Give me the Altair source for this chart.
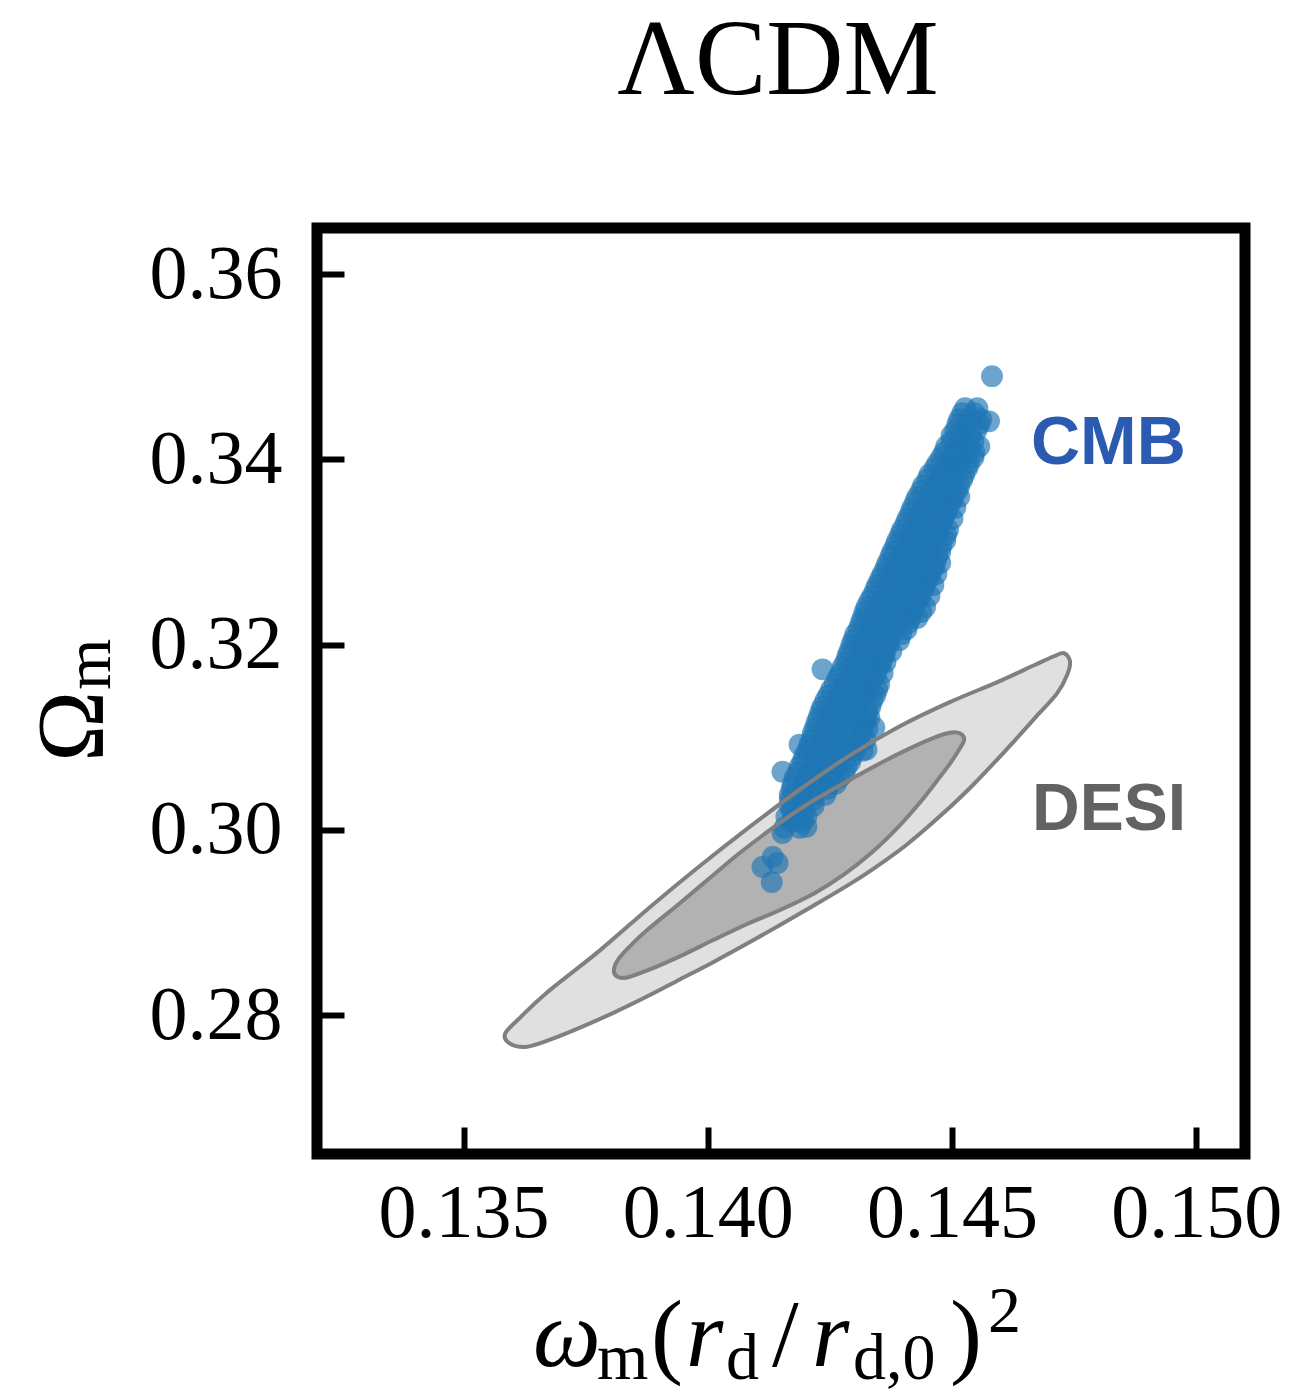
import altair as alt
import pandas as pd

# ---------------- data ----------------
x_ticks = [0.135, 0.140, 0.145, 0.150]
y_ticks = [0.28, 0.30, 0.32, 0.34, 0.36]

# CMB samples, grouped by rows of Omega_m (two interleaved sets of rows)
cmb_row_y = [
    0.3490, 0.34553, 0.34434, 0.34412, 0.34314, 0.34195, 0.34076, 0.33957, 0.33837,
    0.33718, 0.33599, 0.33480, 0.33360, 0.33241, 0.33122, 0.33003, 0.32883,
    0.32764, 0.32645, 0.32526, 0.32407, 0.32287, 0.32168, 0.32049, 0.31930,
    0.31810, 0.31734, 0.31691, 0.31572, 0.31453, 0.31333, 0.31214, 0.31106,
    0.31095, 0.30976, 0.30867, 0.30856, 0.30737, 0.30629, 0.30618, 0.30499,
    0.30379, 0.30260, 0.30141, 0.30033, 0.30022, 0.29967, 0.29707, 0.29642,
    0.29599, 0.29436,
]
cmb_row_x = [
    [0.14582],
    [0.14527, 0.14552],
    [0.14515, 0.14539, 0.14560],
    [0.14576],
    [0.14507, 0.14527, 0.14550],
    [0.14499, 0.14521, 0.14544],
    [0.14484, 0.14509, 0.14533, 0.14546],
    [0.14470, 0.14492, 0.14515, 0.14535],
    [0.14454, 0.14478, 0.14501, 0.14525],
    [0.14441, 0.14466, 0.14490, 0.14515],
    [0.14429, 0.14454, 0.14478, 0.14503, 0.14515],
    [0.14419, 0.14443, 0.14468, 0.14492, 0.14507],
    [0.14409, 0.14433, 0.14458, 0.14482, 0.14501],
    [0.14398, 0.14423, 0.14447, 0.14472, 0.14492],
    [0.14388, 0.14413, 0.14437, 0.14462, 0.14486],
    [0.14378, 0.14403, 0.14427, 0.14452, 0.14476],
    [0.14368, 0.14392, 0.14417, 0.14441, 0.14466, 0.14476],
    [0.14358, 0.14382, 0.14407, 0.14431, 0.14456, 0.14468],
    [0.14347, 0.14372, 0.14396, 0.14421, 0.14445, 0.14462],
    [0.14337, 0.14362, 0.14386, 0.14411, 0.14435, 0.14454],
    [0.14325, 0.14349, 0.14374, 0.14398, 0.14423, 0.14445],
    [0.14317, 0.14341, 0.14366, 0.14390, 0.14415, 0.14429],
    [0.14309, 0.14333, 0.14358, 0.14382, 0.14407],
    [0.14298, 0.14323, 0.14347, 0.14372, 0.14392],
    [0.14290, 0.14315, 0.14339, 0.14364, 0.14376],
    [0.14282, 0.14306, 0.14331, 0.14356, 0.14364],
    [0.14235],
    [0.14272, 0.14296, 0.14321, 0.14345, 0.14358],
    [0.14260, 0.14284, 0.14309, 0.14333, 0.14351],
    [0.14247, 0.14272, 0.14296, 0.14321, 0.14343],
    [0.14235, 0.14260, 0.14284, 0.14309, 0.14333],
    [0.14227, 0.14251, 0.14276, 0.14300, 0.14325, 0.14331],
    [0.14341],
    [0.14219, 0.14243, 0.14268, 0.14292, 0.14317, 0.14327],
    [0.14213, 0.14237, 0.14262, 0.14286, 0.14311, 0.14323],
    [0.14325],
    [0.14204, 0.14229, 0.14253, 0.14278, 0.14302, 0.14317],
    [0.14194, 0.14219, 0.14243, 0.14268, 0.14292],
    [0.14153],
    [0.14184, 0.14208, 0.14233, 0.14257, 0.14280],
    [0.14174, 0.14198, 0.14223, 0.14249, 0.14262],
    [0.14168, 0.14192, 0.14217, 0.14241],
    [0.14168, 0.14192, 0.14217],
    [0.14161, 0.14182, 0.14202],
    [0.14202],
    [0.14157, 0.14188],
    [0.14153],
    [0.14133],
    [0.14143],
    [0.14112],
    [0.14131],
]
cmb_row2_y = [
    0.34499, 0.34380, 0.34260, 0.34141, 0.34022, 0.33902, 0.33783, 0.33664, 0.33545,
    0.33425, 0.33306, 0.33187, 0.33068, 0.32949, 0.32829, 0.32710, 0.32591, 0.32472,
    0.32352, 0.32233, 0.32114, 0.31995, 0.31875, 0.31756, 0.31637, 0.31518, 0.31398,
    0.31279, 0.31160, 0.31041, 0.30921, 0.30802, 0.30683, 0.30564, 0.30444, 0.30325,
    0.30206, 0.30087,
]
cmb_row2_x = [
    [0.14521, 0.14546],
    [0.14511, 0.14531, 0.14556],
    [0.14499, 0.14519, 0.14539],
    [0.14488, 0.14511, 0.14533, 0.14556],
    [0.14478, 0.14499, 0.14521, 0.14544],
    [0.14464, 0.14486, 0.14509, 0.14531],
    [0.14450, 0.14474, 0.14499, 0.14521],
    [0.14437, 0.14462, 0.14486, 0.14511],
    [0.14425, 0.14450, 0.14474, 0.14499],
    [0.14415, 0.14439, 0.14464, 0.14488],
    [0.14405, 0.14429, 0.14454, 0.14478],
    [0.14394, 0.14419, 0.14443, 0.14468, 0.14488],
    [0.14384, 0.14409, 0.14433, 0.14458, 0.14478],
    [0.14374, 0.14398, 0.14423, 0.14447, 0.14470],
    [0.14364, 0.14388, 0.14413, 0.14437, 0.14462],
    [0.14353, 0.14378, 0.14403, 0.14427, 0.14452],
    [0.14343, 0.14368, 0.14392, 0.14417, 0.14441],
    [0.14331, 0.14356, 0.14380, 0.14405, 0.14429],
    [0.14321, 0.14345, 0.14370, 0.14394, 0.14419, 0.14437],
    [0.14313, 0.14337, 0.14362, 0.14386, 0.14411],
    [0.14302, 0.14327, 0.14351, 0.14376, 0.14396],
    [0.14294, 0.14319, 0.14343, 0.14368],
    [0.14286, 0.14311, 0.14335, 0.14360],
    [0.14276, 0.14300, 0.14325, 0.14349],
    [0.14266, 0.14290, 0.14315, 0.14339],
    [0.14253, 0.14278, 0.14302, 0.14327, 0.14347],
    [0.14241, 0.14266, 0.14290, 0.14315, 0.14337],
    [0.14231, 0.14255, 0.14280, 0.14304, 0.14327],
    [0.14223, 0.14247, 0.14272, 0.14296, 0.14321],
    [0.14215, 0.14239, 0.14264, 0.14288, 0.14313],
    [0.14188, 0.14208, 0.14233, 0.14257, 0.14282, 0.14306],
    [0.14198, 0.14223, 0.14247, 0.14272, 0.14296],
    [0.14188, 0.14212, 0.14237, 0.14262, 0.14284],
    [0.14178, 0.14202, 0.14227, 0.14251, 0.14270],
    [0.14172, 0.14196, 0.14221, 0.14245],
    [0.14168, 0.14192, 0.14217],
    [0.14172, 0.14198],
    [0.14172, 0.14194],
]

# DESI contours (outer = 95%, inner = 68%)
desi_outer_x = [0.135852, 0.136159, 0.136710, 0.137793, 0.138815, 0.139837, 0.140858,
                0.141880, 0.142901, 0.143923, 0.144945, 0.145966, 0.146682, 0.147090,
                0.147295, 0.147417, 0.147356, 0.147152, 0.146784, 0.146171, 0.145415,
                0.144740, 0.144066, 0.143412, 0.142840, 0.142145, 0.141471, 0.140817,
                0.140102, 0.139428, 0.138754, 0.138079, 0.137385, 0.136772, 0.136302,
                0.135954]
desi_outer_y = [0.277995, 0.279729, 0.282439, 0.286992, 0.291653, 0.296098, 0.300325,
                0.304336, 0.308022, 0.311165, 0.313767, 0.316043, 0.317778, 0.318753,
                0.319079, 0.318211, 0.316694, 0.314743, 0.312575, 0.308997, 0.304770,
                0.301409, 0.298374, 0.295881, 0.293930, 0.291762, 0.289702, 0.287751,
                0.285691, 0.283849, 0.282006, 0.280271, 0.278645, 0.277345, 0.276586,
                0.276911]
desi_inner_x = [0.138079, 0.138181, 0.138447, 0.138754, 0.139428, 0.140041, 0.140654,
                0.141532, 0.142186, 0.142840, 0.143514, 0.144127, 0.144638, 0.144986,
                0.145170, 0.145251, 0.145149, 0.144945, 0.144679, 0.144393, 0.143923,
                0.143371, 0.142799, 0.142186, 0.141471, 0.140797, 0.140102, 0.139428,
                0.138815, 0.138345, 0.138141]
desi_inner_y = [0.284933, 0.286125, 0.287643, 0.289160, 0.292087, 0.294797, 0.297507,
                0.300976, 0.303252, 0.305203, 0.307155, 0.308781, 0.309973, 0.310515,
                0.310407, 0.309756, 0.308672, 0.307046, 0.305203, 0.303252, 0.300434,
                0.297615, 0.295231, 0.293171, 0.291328, 0.289811, 0.288076, 0.286342,
                0.284933, 0.284065, 0.284174]

# ---------------- tables ----------------
cmb_records = []
for ys, xss in ((cmb_row_y, cmb_row_x), (cmb_row2_y, cmb_row2_x)):
    for yv, xs in zip(ys, xss):
        for xv in xs:
            cmb_records.append({"x": xv, "y": yv})
cmb = pd.DataFrame(cmb_records)

outer = pd.DataFrame({"x": desi_outer_x, "y": desi_outer_y, "i": range(len(desi_outer_x))})
inner = pd.DataFrame({"x": desi_inner_x, "y": desi_inner_y, "i": range(len(desi_inner_x))})
dummy = pd.DataFrame({"a": [0]})

W, H = 928, 926
X0, Y0 = 317, 228  # absolute position of the plot area

xscale = alt.Scale(domain=[0.132, 0.151], nice=False, zero=False)
yscale = alt.Scale(domain=[0.265, 0.365], nice=False, zero=False)

xaxis = alt.Axis(values=x_ticks, format=".3f", title=None, grid=False, domain=False,
                 ticks=True, tickSize=27, tickWidth=6, tickColor="black", offset=-27,
                 labelFont="Liberation Serif", labelFontSize=76, labelColor="black",
                 labelPadding=22, labelBaseline="top")
yaxis = alt.Axis(values=y_ticks, format=".2f", title=None, grid=False, domain=False,
                 ticks=True, tickSize=27, tickWidth=6, tickColor="black", offset=-27,
                 labelFont="Liberation Serif", labelFontSize=76, labelColor="black",
                 labelPadding=35)

def contour(df, fill, fill_layer):
    if fill_layer:
        m = alt.Chart(df).mark_line(fill=fill, strokeOpacity=0,
                                    interpolate="cardinal-closed", tension=0)
    else:
        m = alt.Chart(df).mark_line(stroke="#808080", strokeWidth=4, fillOpacity=0,
                                    interpolate="cardinal-closed", tension=0)
    return m.encode(
        x=alt.X("x:Q", scale=xscale, axis=xaxis),
        y=alt.Y("y:Q", scale=yscale, axis=yaxis),
        order=alt.Order("i:Q"),
    )

outer_fill = contour(outer, "#e0e0e0", True)
inner_fill = contour(inner, "#b2b2b2", True)
outer_line = contour(outer, None, False)
inner_line = contour(inner, None, False)

points = alt.Chart(cmb).mark_circle(size=480, color="#1f77b4", opacity=0.66).encode(
    x=alt.X("x:Q", scale=xscale, axis=xaxis),
    y=alt.Y("y:Q", scale=yscale, axis=yaxis),
)

def txt(text, ax, ay, size, font="Liberation Serif", style="normal", weight="normal",
        color="black", align="left", baseline="alphabetic", angle=0):
    return alt.Chart(dummy).mark_text(
        text=text, font=font, fontSize=size, fontStyle=style, fontWeight=weight,
        color=color, align=align, baseline=baseline, angle=angle,
    ).encode(x=alt.value(ax - X0), y=alt.value(ay - Y0))

texts = [
    txt("ΛCDM", 778, 94, 107, align="center"),
    txt("CMB", 1031, 464, 68, font="Liberation Sans", weight="bold", color="#2a5bb0"),
    txt("DESI", 1032, 830, 66, font="Liberation Sans", weight="bold", color="#626262"),
    # x-axis title  ω_m (r_d / r_{d,0})^2
    txt("ω", 533, 1366, 96, style="italic"),
    txt("m", 597, 1379, 66),
    txt("(", 651, 1366, 96),
    txt("r", 686, 1366, 96, style="italic"),
    txt("d", 726, 1379, 66),
    txt("/", 772, 1366, 96),
    txt("r", 812, 1366, 96, style="italic"),
    txt("d,0", 853, 1379, 66),
    txt(")", 950, 1366, 96),
    txt("2", 988, 1332, 66),
    # y-axis title  Ω_m
    txt("Ω", 103, 762, 96, angle=270),
    txt("m", 110, 690, 66, angle=270),
]

chart = alt.layer(outer_fill, inner_fill, points, outer_line, inner_line, *texts).properties(
    width=W, height=H,
    padding={"left": X0, "top": Y0, "right": 1314 - X0 - W, "bottom": 1391 - Y0 - H},
    autosize=alt.AutoSizeParams(type="none"),
    background="white",
).configure_view(stroke="black", strokeWidth=11)

chart.save("out.html", embed_options={"renderer": "svg", "actions": False})
